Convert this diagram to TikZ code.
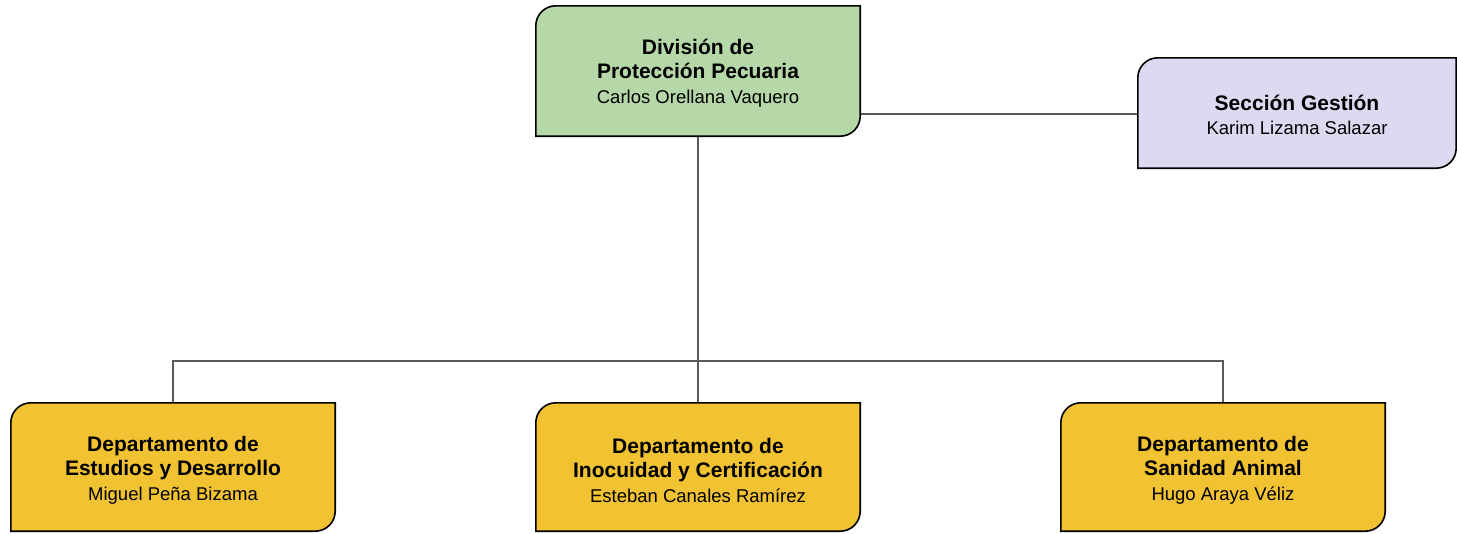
\documentclass[tikz,border=0pt]{standalone}
\usepackage{fontspec}
\setmainfont{Liberation Sans}
\usetikzlibrary{calc}
\definecolor{boxgreen}{HTML}{B6D7A8}
\definecolor{boxpurple}{HTML}{DFD8F1}
\definecolor{boxyellow}{HTML}{F1C232}
\definecolor{linkgray}{HTML}{5A5A5A}
\tikzset{
  orgnode/.style={rectangle, draw=none, align=center, inner sep=0pt,
    font=\fontsize{18.5}{24.5}\selectfont},
  link/.style={draw=linkgray, line width=1.4pt},
}
\newcommand{\ttl}[1]{{\fontsize{21}{24.5}\selectfont\bfseries #1}}
% shape: rounded NW and SE corners
\newcommand{\orgshape}[3]{% node, fill, radius
  \foreach \s/\o in {3/0.06,2/0.1,1.2/0.15}{
    \fill[black,opacity=\o,xshift=-\s pt,yshift=-\s pt]
      (#1.south west) -- ([yshift=-#3]#1.north west)
      arc[start angle=180,end angle=90,radius=#3] -- (#1.north east)
      -- ([yshift=#3]#1.south east) arc[start angle=0,end angle=-90,radius=#3] -- cycle;
  }
  \filldraw[fill=#2, draw=black, line width=1.6pt]
    (#1.south west) -- ([yshift=-#3]#1.north west)
    arc[start angle=180,end angle=90,radius=#3] -- (#1.north east)
    -- ([yshift=#3]#1.south east) arc[start angle=0,end angle=-90,radius=#3] -- cycle;
}
\begin{document}
\begin{tikzpicture}[x=1pt,y=1pt]
\useasboundingbox[fill=white] (0,0) rectangle (1457,-533);
% node geometry (invisible), pixel coordinates with y downwards
\node[orgnode, minimum width=324pt, minimum height=130pt] (top) at (698,-71) {};
\node[orgnode, minimum width=318pt, minimum height=110pt] (sec) at (1297,-113) {};
\node[orgnode, minimum width=324pt, minimum height=128pt] (d1) at (173,-467) {};
\node[orgnode, minimum width=324pt, minimum height=128pt] (d2) at (698,-467) {};
\node[orgnode, minimum width=324pt, minimum height=128pt] (d3) at (1223,-467) {};
\coordinate (bus) at (698,-361);
% connectors
\draw[link] (top.south) -- (d2.north);
\draw[link] (d1.north) |- (bus) -| (d3.north);
\draw[link] ([yshift=-1pt]sec.west) -- ([yshift=-1pt]sec.west -| top.east);
% boxes
\orgshape{top}{boxgreen}{20pt}
\orgshape{sec}{boxpurple}{20pt}
\orgshape{d1}{boxyellow}{20pt}
\orgshape{d2}{boxyellow}{20pt}
\orgshape{d3}{boxyellow}{20pt}
% texts
\node[orgnode] (ttop) at ([yshift=-2pt]top.center) {\ttl{División de}\\\ttl{Protección Pecuaria}\\Carlos Orellana Vaquero};
\node[orgnode] (tsec) at ([yshift=-2pt]sec.center) {\ttl{Sección Gestión}\\Karim Lizama Salazar};
\node[orgnode] (td1) at ([yshift=-3pt]d1.center) {\ttl{Departamento de}\\\ttl{Estudios y Desarrollo}\\Miguel Peña Bizama};
\node[orgnode] (td2) at ([yshift=-3pt]d2.center) {\ttl{Departamento de}\\\ttl{Inocuidad y Certificación}\\Esteban Canales Ramírez};
\node[orgnode] (td3) at ([yshift=-3pt]d3.center) {\ttl{Departamento de}\\\ttl{Sanidad Animal}\\Hugo Araya Véliz};
\end{tikzpicture}
\end{document}
